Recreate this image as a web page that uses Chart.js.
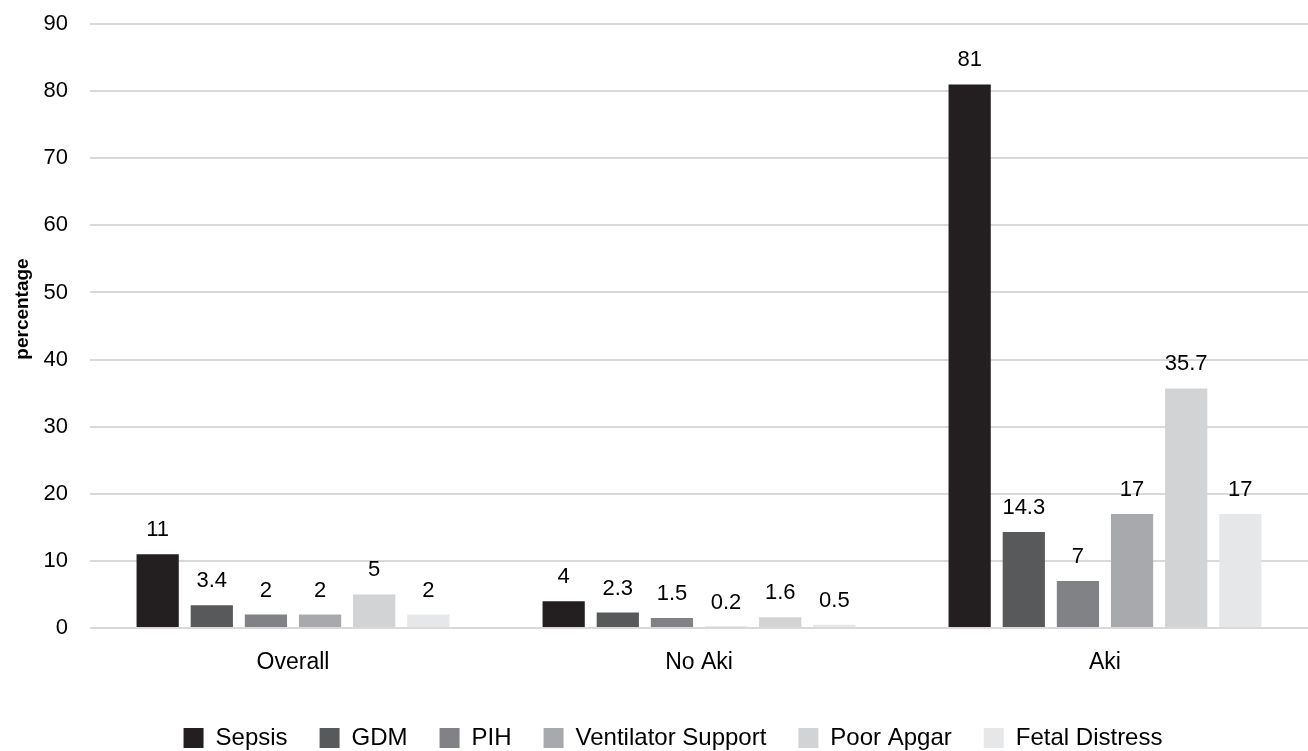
<!DOCTYPE html>
<html>
<head>
<meta charset="utf-8">
<script src="https://cdn.jsdelivr.net/npm/chart.js@4"></script>
<style>
html,body{margin:0;padding:0;background:#fff;}
#wrap{width:1308px;height:751px;position:relative;}
</style>
</head>
<body>
<div id="wrap"><canvas id="c" width="1308" height="751"></canvas></div>
<script>
const categories = ["Overall", "No Aki", "Aki"];
const seriesNames = ["Sepsis", "GDM", "PIH", "Ventilator Support", "Poor Apgar", "Fetal Distress"];
const sepsis = [11, 4, 81];
const gdm = [3.4, 2.3, 14.3];
const pih = [2, 1.5, 7];
const ventilator = [2, 0.2, 17];
const poorApgar = [5, 1.6, 35.7];
const fetalDistress = [2, 0.5, 17];
const yTicks = [0, 10, 20, 30, 40, 50, 60, 70, 80, 90];
const yTitle = "percentage";
const colors = ["#231f20", "#58595b", "#808285", "#a7a9ac", "#d1d3d4", "#e6e7e8"];

const seriesData = [sepsis, gdm, pih, ventilator, poorApgar, fetalDistress];
const FONT = "'Liberation Sans', Arial, sans-serif";

const labelPlugin = {
  id: 'valueLabels',
  afterDatasetsDraw(chart) {
    const ctx = chart.ctx;
    ctx.save();
    ctx.font = "22px " + FONT;
    ctx.fillStyle = "#000";
    ctx.textAlign = "center";
    ctx.textBaseline = "alphabetic";
    chart.data.datasets.forEach((ds, i) => {
      const meta = chart.getDatasetMeta(i);
      meta.data.forEach((bar, j) => {
        ctx.fillText(String(ds.data[j]), bar.x, bar.y - 18);
      });
    });
    ctx.restore();
  }
};

const yTitlePlugin = {
  id: 'yTitle',
  afterDraw(chart) {
    const ctx = chart.ctx;
    const area = chart.chartArea;
    ctx.save();
    ctx.translate(23, (area.top + area.bottom) / 2 - 17);
    ctx.rotate(-Math.PI / 2);
    ctx.font = "bold 19px " + FONT;
    ctx.fillStyle = "#000";
    ctx.textAlign = "center";
    ctx.textBaseline = "middle";
    ctx.fillText(yTitle, 0, 0);
    ctx.restore();
  }
};

const legendShift = {
  id: 'legendShift',
  afterLayout(chart) {
    if (chart.legend) {
      chart.legend.left -= 26;
      chart.legend.right -= 26;
    }
  }
};

new Chart(document.getElementById('c'), {
  type: 'bar',
  data: {
    labels: categories,
    datasets: seriesNames.map((n, i) => ({
      label: n,
      data: seriesData[i],
      backgroundColor: colors[i],
      borderWidth: 0,
      barPercentage: 0.78,
      categoryPercentage: 0.8
    }))
  },
  options: {
    responsive: false,
    animation: false,
    layout: { padding: { left: 0, right: 0, top: 24, bottom: -9 } },
    plugins: {
      legend: {
        position: 'bottom',
        fullSize: false,
        labels: {
          font: { family: FONT, size: 24 },
          color: '#000',
          boxWidth: 20,
          boxHeight: 20,
          padding: 32
        }
      },
      tooltip: { enabled: false }
    },
    scales: {
      x: {
        grid: { display: false, drawTicks: false },
        border: { display: false },
        ticks: { font: { family: FONT, size: 23 }, color: '#000', padding: 21 },
        afterFit(scale) { scale.height = 66; }
      },
      y: {
        min: 0, max: 90,
        afterBuildTicks(scale) { scale.ticks = yTicks.map(v => ({ value: v })); },
        grid: { color: '#d9d9d9', lineWidth: 2, drawTicks: false },
        border: { display: false },
        ticks: { font: { family: FONT, size: 22 }, color: '#000', padding: 22 },
        title: { display: false },
        afterFit(scale) { scale.width = 90; scale.paddingTop = 0; }
      }
    }
  },
  plugins: [labelPlugin, yTitlePlugin, legendShift]
});
</script>
</body>
</html>
